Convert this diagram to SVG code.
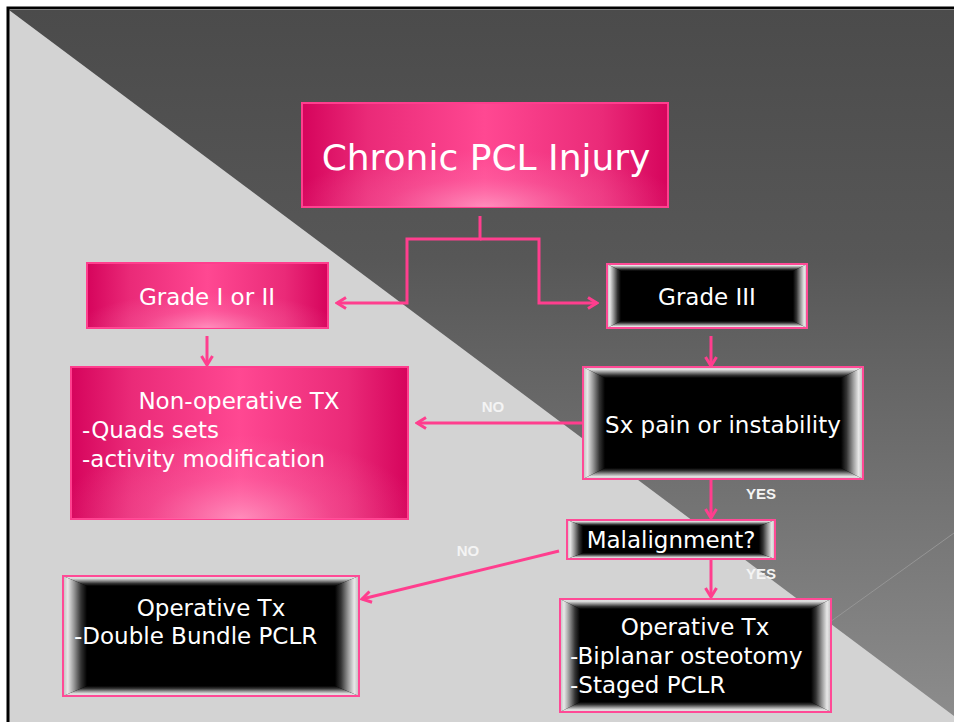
<svg xmlns="http://www.w3.org/2000/svg" width="954" height="722" viewBox="0 0 954 722">
<defs>
<style>
.conn{fill:none;stroke:#ff3e8e;stroke-width:3;marker-end:url(#arr)}
.pk{fill:url(#pinkH);stroke:#ff3e8e;stroke-width:2}
.glow{fill:url(#glow)}
.blk{fill:#000}
.bL{fill:url(#bevL)}
.bR{fill:url(#bevR)}
.bT{fill:url(#bevT)}
.bB{fill:url(#bevB)}
.edge{fill:none;stroke:#ff4a96;stroke-width:2}
.t{font-family:"DejaVu Sans","Liberation Sans",sans-serif;fill:#fff;font-size:23px}
.c{text-anchor:middle}
.title{font-size:36px}
.lbl{font-family:"Liberation Sans",Arial,sans-serif;font-weight:bold;font-size:15px;fill:#f4f4f4;text-anchor:middle}
</style>
<linearGradient id="dark" gradientUnits="userSpaceOnUse" x1="0" y1="10" x2="0" y2="716">
<stop offset="0" stop-color="#4b4b4b"/>
<stop offset="0.35" stop-color="#575757"/>
<stop offset="1" stop-color="#8c8c8c"/>
</linearGradient>
<linearGradient id="pinkH" x1="0" y1="0" x2="1" y2="0">
<stop offset="0" stop-color="#d6045c"/>
<stop offset="0.18" stop-color="#ea2a78"/>
<stop offset="0.5" stop-color="#ff4892"/>
<stop offset="0.82" stop-color="#ea2a78"/>
<stop offset="1" stop-color="#d6045c"/>
</linearGradient>
<radialGradient id="glow" cx="0.5" cy="1" r="0.55" fx="0.5" fy="1">
<stop offset="0" stop-color="#ffb3d2" stop-opacity="0.65"/>
<stop offset="0.5" stop-color="#ff86b8" stop-opacity="0.25"/>
<stop offset="1" stop-color="#ff86b8" stop-opacity="0"/>
</radialGradient>
<linearGradient id="bevL" x1="0" y1="0" x2="1" y2="0">
<stop offset="0" stop-color="#bdbdbd"/>
<stop offset="0.2" stop-color="#e8e8e8"/>
<stop offset="0.45" stop-color="#9a9a9a"/>
<stop offset="0.75" stop-color="#333"/>
<stop offset="1" stop-color="#000"/>
</linearGradient>
<linearGradient id="bevR" href="#bevL" x1="1" y1="0" x2="0" y2="0"/>
<linearGradient id="bevT" href="#bevL" x1="0" y1="0" x2="0" y2="1"/>
<linearGradient id="bevB" href="#bevL" x1="0" y1="1" x2="0" y2="0"/>
<marker id="arr" markerUnits="userSpaceOnUse" viewBox="-12 -8 14 16" markerWidth="14" markerHeight="16" refX="0" refY="0" orient="auto">
<path d="M-9,-5.5 L0,0 L-9,5.5" fill="none" stroke="#ff3e8e" stroke-width="3"/>
</marker>
</defs>

<g id="background">
<rect width="954" height="722" fill="#fff"/>
<rect x="9" y="10" width="945" height="712" fill="#d3d3d3"/>
<polygon points="9,10 954,10 954,716" fill="url(#dark)"/>
<line x1="830" y1="622" x2="954" y2="533" stroke="#959595" stroke-width="1"/>
<path d="M8,722 V8 H954" fill="none" stroke="#000" stroke-width="3"/>
</g>

<g id="connectors">
<path class="conn" d="M480,216 V239 H407 V303 H337"/>
<path class="conn" d="M480,239 H539 V303 H597"/>
<path class="conn" d="M207,336 V365"/>
<path class="conn" d="M711,336 V366"/>
<path class="conn" d="M583,423 H417"/>
<path class="conn" d="M711,479 V518"/>
<path class="conn" d="M559,551 L362,599"/>
<path class="conn" d="M711,559 V597"/>
<text class="lbl" x="493" y="412">NO</text>
<text class="lbl" x="761" y="499">YES</text>
<text class="lbl" x="468" y="556">NO</text>
<text class="lbl" x="761" y="579">YES</text>
</g>

<g id="chronic">
<rect class="pk" x="302" y="103" width="366" height="104"/>
<rect class="glow" x="302" y="103" width="366" height="104"/>
<text class="t c title" x="486" y="170">Chronic PCL Injury</text>
</g>

<g id="grade12">
<rect class="pk" x="87" y="263" width="241" height="65"/>
<rect class="glow" x="87" y="263" width="241" height="65"/>
<text class="t c" x="207" y="305">Grade I or II</text>
</g>

<g id="grade3">
<rect class="blk" x="607" y="264" width="200" height="64"/>
<polygon class="bL" points="607,264 621,271 621,321 607,328"/>
<polygon class="bR" points="807,264 793,271 793,321 807,328"/>
<polygon class="bT" points="607,264 807,264 793,271 621,271"/>
<polygon class="bB" points="607,328 807,328 793,321 621,321"/>
<rect class="edge" x="607" y="264" width="200" height="64"/>
<text class="t c" x="707" y="305">Grade III</text>
</g>

<g id="nonop">
<rect class="pk" x="71" y="367" width="337" height="152"/>
<rect class="glow" x="71" y="367" width="337" height="152"/>
<text class="t c" x="239" y="409">Non-operative TX</text>
<text class="t" x="82" y="438">-Quads sets</text>
<text class="t" x="82" y="467">-activity modification</text>
</g>

<g id="sx">
<rect class="blk" x="583" y="367" width="280" height="112"/>
<polygon class="bL" points="583,367 605,378 605,468 583,479"/>
<polygon class="bR" points="863,367 841,378 841,468 863,479"/>
<polygon class="bT" points="583,367 863,367 841,378 605,378"/>
<polygon class="bB" points="583,479 863,479 841,468 605,468"/>
<rect class="edge" x="583" y="367" width="280" height="112"/>
<text class="t c" x="723" y="433">Sx pain or instability</text>
</g>

<g id="malalign">
<rect class="blk" x="567" y="520" width="208" height="39"/>
<polygon class="bL" points="567,520 583,526 583,553 567,559"/>
<polygon class="bR" points="775,520 759,526 759,553 775,559"/>
<polygon class="bT" points="567,520 775,520 759,526 583,526"/>
<polygon class="bB" points="567,559 775,559 759,553 583,553"/>
<rect class="edge" x="567" y="520" width="208" height="39"/>
<text class="t c" x="671" y="548">Malalignment?</text>
</g>

<g id="opleft">
<rect class="blk" x="63" y="576" width="296" height="120"/>
<polygon class="bL" points="63,576 87,586 87,686 63,696"/>
<polygon class="bR" points="359,576 335,586 335,686 359,696"/>
<polygon class="bT" points="63,576 359,576 335,586 87,586"/>
<polygon class="bB" points="63,696 359,696 335,686 87,686"/>
<rect class="edge" x="63" y="576" width="296" height="120"/>
<text class="t c" x="211" y="616">Operative Tx</text>
<text class="t" x="74" y="644">-Double Bundle PCLR</text>
</g>

<g id="opright">
<rect class="blk" x="560" y="599" width="271" height="113"/>
<polygon class="bL" points="560,599 580,609 580,702 560,712"/>
<polygon class="bR" points="831,599 811,609 811,702 831,712"/>
<polygon class="bT" points="560,599 831,599 811,609 580,609"/>
<polygon class="bB" points="560,712 831,712 811,702 580,702"/>
<rect class="edge" x="560" y="599" width="271" height="113"/>
<text class="t c" x="695" y="635">Operative Tx</text>
<text class="t" x="570" y="664">-Biplanar osteotomy</text>
<text class="t" x="570" y="693">-Staged PCLR</text>
</g>
</svg>
